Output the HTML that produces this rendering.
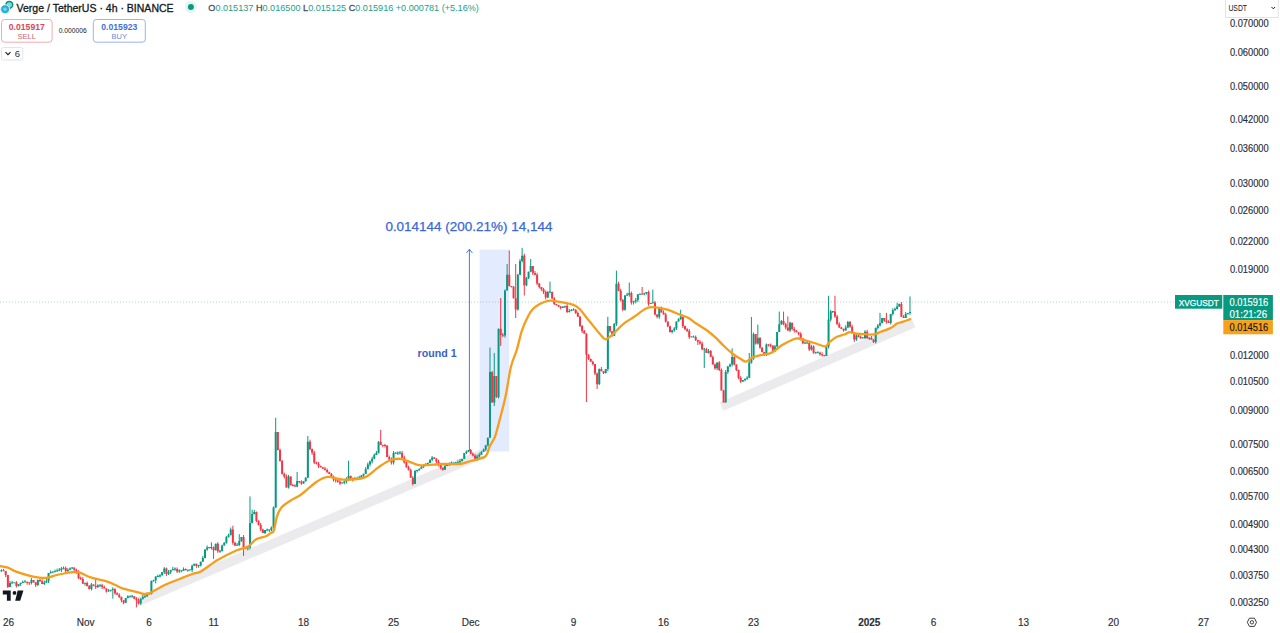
<!DOCTYPE html>
<html><head><meta charset="utf-8"><style>
html,body{margin:0;padding:0;background:#ffffff;width:1280px;height:633px;overflow:hidden}
svg{display:block}
text{font-family:"Liberation Sans",sans-serif}
</style></head><body>
<svg width="1280" height="633" viewBox="0 0 1280 633">
<rect width="1280" height="633" fill="#ffffff"/>
<!-- trend bands -->
<line x1="137" y1="602" x2="482" y2="454" stroke="#ebebed" stroke-width="9.5"/>
<line x1="721.6" y1="406.5" x2="913.6" y2="323" stroke="#ebebed" stroke-width="9.5"/>
<!-- measure rect -->
<rect x="479.7" y="249.6" width="29.5" height="201.9" fill="rgba(41,98,255,0.13)"/>
<!-- price line dotted -->
<line x1="0" y1="302" x2="1175" y2="302" stroke="#6aa9a0" stroke-width="1" stroke-dasharray="1 2" opacity="0.5"/>
<!-- candles -->
<path d="M1.41 569.35V571.85M9.99 581.00V587.00M12.13 580.81V583.50M14.27 582.60V582.81M18.56 584.00V586.50M20.70 582.87V586.00M22.84 580.50V582.87M24.99 580.00V582.00M31.41 578.00V584.50M37.84 579.50V586.00M44.27 580.48V585.00M46.41 579.00V582.98M48.56 573.00V583.00M50.70 570.40V573.50M52.84 571.08V572.40M54.99 569.60V572.08M57.13 568.63V571.60M59.27 568.00V571.13M61.41 566.90V572.00M63.56 566.50V569.40M67.84 568.29V572.00M69.99 567.40V570.29M72.13 567.10V568.90M84.99 583.00V585.70M91.41 583.00V590.50M97.84 584.30V588.00M99.99 584.30V587.30M108.56 589.12V591.60M110.70 590.00V591.62M112.84 587.20V598.70M125.70 598.00V603.20M127.84 595.30V598.50M129.99 595.80V597.80M132.13 594.80V597.80M140.70 598.20V604.90M142.84 595.00V599.70M144.99 594.80V598.00M147.13 592.50V596.80M149.27 593.50V594.00M151.41 580.50V594.50M153.56 579.80V581.50M155.70 576.50V583.40M157.84 574.50V577.00M159.99 574.20V577.50M162.13 572.00V575.70M164.27 567.10V574.00M168.56 570.00V575.00M170.70 569.70V574.00M172.84 566.90V570.20M174.99 567.40V570.90M179.27 569.30V572.90M181.41 570.80V572.30M183.56 567.40V570.80M187.84 569.60V571.70M189.99 569.50V570.10M192.13 564.70V572.00M194.27 563.80V565.70M198.56 565.00V567.70M200.70 561.70V566.50M202.84 555.90V561.70M204.99 549.40V558.40M207.13 545.50V550.90M209.27 547.00V548.50M211.41 542.30V549.50M215.70 543.70V550.30M219.99 549.80V552.80M222.13 544.60V551.30M224.27 542.20V545.60M226.41 536.00V543.70M228.56 533.70V537.50M230.70 527.50V535.20M237.13 543.00V545.60M239.27 534.20V546.00M241.41 537.00V541.90M247.84 547.00V550.40M249.99 496.40V549.50M252.13 509.70V523.50M254.27 510.00V514.50M264.99 530.00V534.00M267.13 528.50V531.00M269.27 529.50V532.00M271.41 526.40V531.50M273.56 506.50V528.40M275.70 417.80V508.00M288.56 475.00V488.50M297.13 472.00V487.40M303.56 481.15V483.90M305.70 477.20V481.65M307.84 436.00V478.20M342.13 482.28V483.40M344.27 480.50V484.28M346.41 477.23V483.50M348.56 460.70V481.23M354.99 476.93V479.60M357.13 476.70V479.43M359.27 475.70V478.20M361.41 474.98V478.20M363.56 473.50V476.98M365.70 467.15V474.00M367.84 462.50V469.15M369.99 460.52V466.50M372.13 456.80V463.52M374.27 453.53V458.80M376.41 451.00V455.03M378.56 441.20V453.50M393.56 451.00V464.60M395.70 452.50V454.00M397.84 451.50V455.00M399.99 451.00V454.50M414.99 470.00V484.00M417.13 469.67V472.50M419.27 468.70V470.67M421.41 465.96V468.70M423.56 464.50V467.96M425.70 463.35V466.00M427.84 462.50V465.35M429.99 459.34V463.00M432.13 456.10V461.34M444.99 464.95V469.80M447.13 463.00V465.95M449.27 462.38V466.00M451.41 461.50V464.88M453.56 463.00V464.50M455.70 462.00V465.00M457.84 460.40V464.00M459.99 459.00V462.40M462.13 458.90V461.50M464.27 453.00V458.90M466.41 450.48V454.00M468.56 450.00V451.98M477.13 454.50V460.70M479.27 452.73V458.00M481.41 451.00V454.73M483.56 448.61V452.00M485.70 444.90V451.11M487.84 437.70V446.40M489.99 347.60V437.70M494.27 353.00V406.00M498.56 328.70V398.50M504.99 289.40V337.60M507.13 264.00V290.40M517.84 273.80V310.60M519.99 259.00V275.30M522.13 247.80V262.50M526.41 277.00V286.20M528.56 271.74V279.00M530.70 259.00V271.74M547.84 291.00V297.90M549.99 281.70V293.00M562.84 306.14V308.00M564.99 306.00V308.14M569.27 308.99V312.50M571.41 309.00V310.99M573.56 308.20V310.50M599.27 368.50V384.80M605.70 369.00V373.50M607.84 316.80V371.00M614.27 323.00V336.20M616.41 270.60V326.00M624.99 295.00V310.70M627.13 292.69V296.00M629.27 282.50V296.69M633.56 300.83V304.60M635.70 298.00V303.33M637.84 294.30V302.00M639.99 293.50V294.30M644.27 292.64V295.30M646.41 292.00V294.64M650.70 303.03V303.80M652.84 289.60V303.53M659.27 308.50V318.80M672.13 329.83V333.50M674.27 327.10V331.83M676.41 321.50V330.10M678.56 318.21V321.50M680.70 309.70V319.71M691.41 336.50V337.00M693.56 335.50V337.00M704.27 347.80V368.00M708.56 349.00V353.50M717.13 362.60V370.20M725.70 370.00V402.40M727.84 365.90V374.00M729.99 363.50V367.40M732.13 348.30V366.50M742.84 380.00V382.00M744.99 378.66V381.50M747.13 376.20V380.16M749.27 353.00V378.20M751.41 317.00V363.60M753.56 332.50V359.80M757.84 324.60V344.60M766.41 343.50V356.00M774.99 344.90V352.00M777.13 332.00V347.40M779.27 311.60V332.00M781.41 320.00V324.80M789.99 321.70V332.10M804.99 341.70V343.20M807.13 341.00V343.70M811.41 344.90V350.60M815.70 351.70V353.70M817.84 351.20V353.20M826.41 345.90V355.90M828.56 295.80V348.40M830.70 310.10V321.50M832.84 311.10V313.10M845.70 325.40V330.60M847.84 320.90V327.90M856.41 334.10V340.90M862.84 337.00V338.00M864.99 330.30V339.00M869.27 337.50V340.00M875.70 327.50V343.50M877.84 324.00V329.50M879.99 312.90V326.50M882.13 317.90V323.50M890.70 314.00V324.50M892.84 308.30V315.50M894.99 307.50V310.80M897.13 302.80V309.50M899.27 303.50V307.00M905.70 312.00V318.00M907.84 312.90V314.50M909.99 296.40V314.90" stroke="#089981" stroke-width="1" fill="none"/>
<path d="M3.56 568.85V571.00M5.70 571.00V577.00M7.84 575.00V588.00M16.41 581.10V587.50M27.13 581.50V584.63M29.27 582.63V585.00M33.56 580.00V582.72M35.70 582.22V587.00M39.99 578.50V581.79M42.13 579.29V584.00M65.70 566.50V573.00M74.27 567.60V571.73M76.41 568.73V573.80M78.56 570.30V579.00M80.70 576.50V580.00M82.84 577.00V583.70M87.13 581.50V586.50M89.27 585.00V589.50M93.56 584.50V585.94M95.70 578.20V589.00M102.13 583.80V589.00M104.27 585.50V588.40M106.41 588.40V592.60M114.99 588.20V594.70M117.13 592.20V594.80M119.27 593.30V598.00M121.41 596.50V602.30M123.56 600.30V604.20M134.27 596.30V599.20M136.41 597.20V607.40M138.56 598.30V604.40M166.41 567.60V576.00M177.13 567.40V572.90M185.70 568.40V570.20M196.41 563.80V567.70M213.56 546.50V558.90M217.84 542.20V552.80M232.84 525.70V544.70M234.99 541.70V546.10M243.56 535.00V556.00M245.70 547.00V549.40M256.41 511.50V522.30M258.56 520.30V525.50M260.70 523.00V531.10M262.84 528.60V533.00M277.84 432.00V450.50M279.99 448.50V461.50M282.13 460.00V474.50M284.27 472.50V478.50M286.41 474.50V487.50M290.70 476.50V485.30M292.84 483.80V486.31M294.99 484.31V486.90M299.27 481.00V483.32M301.41 480.32V484.90M309.99 439.70V450.50M312.13 448.50V454.84M314.27 450.84V464.10M316.41 461.60V464.37M318.56 461.87V468.00M320.70 465.50V467.33M322.84 467.33V468.84M324.99 466.84V470.50M327.13 468.50V472.74M329.27 471.74V474.00M331.41 473.00V477.08M333.56 475.58V481.60M335.70 479.10V482.58M337.84 479.58V482.81M339.99 479.81V484.90M350.70 475.50V479.94M352.84 477.44V481.60M380.70 430.00V445.00M382.84 445.00V447.29M384.99 443.79V447.50M387.13 445.50V457.00M389.27 455.50V460.54M391.41 457.54V464.60M402.13 451.00V458.24M404.27 455.74V463.60M406.41 460.60V467.68M408.56 465.68V470.50M410.70 468.50V477.70M412.84 476.20V485.50M434.27 457.10V459.20M436.41 458.20V463.16M438.56 459.66V466.50M440.70 464.00V469.35M442.84 467.35V470.80M470.70 449.00V454.34M472.84 452.34V456.40M474.99 453.90V459.20M492.13 371.00V402.60M496.41 376.00V398.00M500.70 298.00V346.00M502.84 333.00V337.10M509.27 250.40V286.50M511.41 286.00V287.50M513.56 286.00V298.37M515.70 264.00V318.00M524.27 253.70V295.60M532.84 266.00V275.00M534.99 271.00V275.30M537.13 272.80V285.00M539.27 283.00V288.50M541.41 287.00V290.84M543.56 287.84V294.00M545.70 290.50V299.40M552.13 291.50V299.09M554.27 297.09V305.00M556.41 304.00V305.50M558.56 305.00V306.82M560.70 305.82V309.50M567.13 304.00V313.00M575.70 309.20V313.95M577.84 311.45V316.80M579.99 315.80V327.00M582.13 325.00V333.00M584.27 330.00V333.90M586.41 333.40V402.00M588.56 354.20V360.00M590.70 358.50V361.71M592.84 360.71V365.50M594.99 364.00V375.10M597.13 372.60V389.00M601.41 367.00V371.24M603.56 371.24V374.00M609.99 326.00V332.80M612.13 331.30V336.70M618.56 281.70V291.30M620.70 288.80V301.50M622.84 299.00V311.20M631.41 291.50V304.60M642.13 287.00V294.30M648.56 290.50V305.80M654.99 301.10V315.40M657.13 314.40V318.30M661.41 306.50V312.46M663.56 310.46V314.40M665.70 312.90V322.50M667.84 321.50V327.30M669.99 325.80V332.50M682.84 316.80V328.00M684.99 325.50V330.17M687.13 328.17V332.00M689.27 329.00V339.00M695.70 335.50V341.00M697.84 340.00V345.00M699.99 340.20V344.60M702.13 341.60V350.30M706.41 347.80V353.00M710.70 350.00V356.90M712.84 355.40V364.50M714.99 363.50V369.70M719.27 361.10V371.00M721.41 368.50V390.77M723.56 389.77V402.40M734.27 354.90V365.50M736.41 364.50V371.00M738.56 369.50V379.20M740.70 376.20V383.00M755.70 334.00V344.60M759.99 337.00V348.90M762.13 347.40V352.59M764.27 352.09V356.00M768.56 344.50V346.54M770.70 343.54V347.50M772.84 345.50V352.00M783.56 311.60V325.30M785.70 322.80V329.40M787.84 316.40V331.10M792.13 322.70V330.50M794.27 327.00V332.60M796.41 330.10V332.20M798.56 332.20V335.30M800.70 332.30V340.50M802.84 338.00V344.20M809.27 342.50V351.10M813.56 345.40V353.70M819.99 351.70V355.80M822.13 352.30V356.56M824.27 355.06V356.40M834.99 295.80V317.90M837.13 314.90V324.80M839.27 322.30V327.90M841.41 326.90V329.00M843.56 328.50V331.60M849.99 320.90V327.80M852.13 324.80V333.50M854.27 333.00V342.00M858.56 333.60V337.40M860.70 335.40V339.00M867.13 329.80V339.00M871.41 336.00V339.90M873.56 339.40V343.00M884.27 317.90V322.00M886.41 312.90V323.70M888.56 320.20V323.00M901.41 302.00V316.70M903.56 315.20V318.00" stroke="#f23645" stroke-width="1" fill="none"/>
<path d="M0.41 570.35h2.0v1.00h-2.0zM8.99 583.00h2.0v4.00h-2.0zM11.13 582.41h2.0v1.00h-2.0zM13.27 582.21h2.0v1.00h-2.0zM17.56 584.00h2.0v2.00h-2.0zM19.70 582.87h2.0v1.13h-2.0zM21.84 581.93h2.0v1.00h-2.0zM23.99 581.50h2.0v1.00h-2.0zM30.41 580.00h2.0v3.00h-2.0zM36.84 580.00h2.0v5.00h-2.0zM43.27 582.48h2.0v1.52h-2.0zM45.41 581.00h2.0v1.48h-2.0zM47.56 573.00h2.0v8.00h-2.0zM49.70 572.20h2.0v1.00h-2.0zM51.84 571.74h2.0v1.00h-2.0zM53.99 571.34h2.0v1.00h-2.0zM56.13 570.61h2.0v1.00h-2.0zM58.27 569.81h2.0v1.00h-2.0zM60.41 568.40h2.0v1.60h-2.0zM62.56 567.70h2.0v1.00h-2.0zM66.84 569.79h2.0v1.21h-2.0zM68.99 568.40h2.0v1.39h-2.0zM71.13 567.50h2.0v1.00h-2.0zM83.99 582.85h2.0v1.00h-2.0zM90.41 584.50h2.0v4.50h-2.0zM96.84 585.30h2.0v1.70h-2.0zM98.99 584.80h2.0v1.00h-2.0zM107.56 590.61h2.0v1.00h-2.0zM109.70 589.81h2.0v1.00h-2.0zM111.84 589.10h2.0v1.00h-2.0zM124.70 598.00h2.0v4.70h-2.0zM126.84 596.30h2.0v1.70h-2.0zM128.99 595.80h2.0v1.00h-2.0zM131.13 595.80h2.0v1.00h-2.0zM139.70 598.70h2.0v4.70h-2.0zM141.84 597.00h2.0v1.70h-2.0zM143.99 596.15h2.0v1.00h-2.0zM146.13 594.00h2.0v2.30h-2.0zM148.27 593.50h2.0v1.00h-2.0zM150.41 581.00h2.0v13.00h-2.0zM152.56 580.15h2.0v1.00h-2.0zM154.70 576.50h2.0v3.80h-2.0zM156.84 576.00h2.0v1.00h-2.0zM158.99 575.20h2.0v1.30h-2.0zM161.13 572.00h2.0v3.20h-2.0zM163.27 568.60h2.0v3.40h-2.0zM167.56 572.00h2.0v2.00h-2.0zM169.70 570.20h2.0v1.80h-2.0zM171.84 568.90h2.0v1.30h-2.0zM173.99 568.40h2.0v1.00h-2.0zM178.27 570.60h2.0v1.00h-2.0zM180.41 570.30h2.0v1.00h-2.0zM182.56 568.90h2.0v1.90h-2.0zM186.84 569.65h2.0v1.00h-2.0zM188.99 569.55h2.0v1.00h-2.0zM191.13 565.70h2.0v4.30h-2.0zM193.27 563.80h2.0v1.90h-2.0zM197.56 565.10h2.0v1.00h-2.0zM199.70 561.70h2.0v3.80h-2.0zM201.84 557.90h2.0v3.80h-2.0zM203.99 549.40h2.0v8.50h-2.0zM206.13 547.50h2.0v1.90h-2.0zM208.27 547.00h2.0v1.00h-2.0zM210.41 547.00h2.0v1.00h-2.0zM214.70 543.70h2.0v6.60h-2.0zM218.99 550.80h2.0v1.00h-2.0zM221.13 545.60h2.0v5.70h-2.0zM223.27 542.70h2.0v2.90h-2.0zM225.41 537.00h2.0v5.70h-2.0zM227.56 535.20h2.0v1.80h-2.0zM229.70 529.50h2.0v5.70h-2.0zM236.13 544.80h2.0v1.00h-2.0zM238.27 540.90h2.0v4.10h-2.0zM240.41 537.00h2.0v3.90h-2.0zM246.84 547.45h2.0v1.00h-2.0zM248.99 523.00h2.0v24.50h-2.0zM251.13 514.00h2.0v9.00h-2.0zM253.27 512.00h2.0v2.00h-2.0zM263.99 530.00h2.0v3.00h-2.0zM266.13 529.50h2.0v1.00h-2.0zM268.27 529.50h2.0v1.00h-2.0zM270.41 527.40h2.0v2.60h-2.0zM272.56 507.50h2.0v19.90h-2.0zM274.70 432.00h2.0v75.50h-2.0zM287.56 476.50h2.0v11.00h-2.0zM296.13 481.00h2.0v5.40h-2.0zM302.56 481.15h2.0v2.25h-2.0zM304.70 477.70h2.0v3.45h-2.0zM306.84 441.70h2.0v36.00h-2.0zM341.13 482.59h2.0v1.00h-2.0zM343.27 481.50h2.0v1.28h-2.0zM345.41 479.23h2.0v2.27h-2.0zM347.56 476.00h2.0v3.23h-2.0zM353.99 478.76h2.0v1.00h-2.0zM356.13 478.06h2.0v1.00h-2.0zM358.27 477.45h2.0v1.00h-2.0zM360.41 475.48h2.0v2.22h-2.0zM362.56 474.00h2.0v1.48h-2.0zM364.70 469.15h2.0v4.85h-2.0zM366.84 464.50h2.0v4.65h-2.0zM368.99 461.52h2.0v2.98h-2.0zM371.13 458.80h2.0v2.72h-2.0zM373.27 455.03h2.0v3.77h-2.0zM375.41 453.00h2.0v2.03h-2.0zM377.56 441.70h2.0v11.30h-2.0zM392.56 453.00h2.0v9.60h-2.0zM394.70 452.50h2.0v1.00h-2.0zM396.84 452.50h2.0v1.00h-2.0zM398.99 452.50h2.0v1.00h-2.0zM413.99 471.00h2.0v13.00h-2.0zM416.13 470.08h2.0v1.00h-2.0zM418.27 468.70h2.0v1.47h-2.0zM420.41 466.96h2.0v1.74h-2.0zM422.56 465.00h2.0v1.96h-2.0zM424.70 463.85h2.0v1.15h-2.0zM426.84 462.93h2.0v1.00h-2.0zM428.99 459.84h2.0v3.16h-2.0zM431.13 457.60h2.0v2.24h-2.0zM443.99 465.95h2.0v3.85h-2.0zM446.13 464.00h2.0v1.95h-2.0zM448.27 463.19h2.0v1.00h-2.0zM450.41 462.69h2.0v1.00h-2.0zM452.56 462.50h2.0v1.00h-2.0zM454.70 462.50h2.0v1.00h-2.0zM456.84 462.20h2.0v1.00h-2.0zM458.99 461.00h2.0v1.40h-2.0zM461.13 458.90h2.0v2.10h-2.0zM463.27 453.00h2.0v5.90h-2.0zM465.41 451.48h2.0v1.52h-2.0zM467.56 450.00h2.0v1.48h-2.0zM476.13 456.50h2.0v2.20h-2.0zM478.27 454.73h2.0v1.77h-2.0zM480.41 452.00h2.0v2.73h-2.0zM482.56 449.61h2.0v2.39h-2.0zM484.70 445.40h2.0v4.21h-2.0zM486.84 437.70h2.0v7.70h-2.0zM488.99 372.00h2.0v65.70h-2.0zM493.27 376.00h2.0v26.60h-2.0zM497.56 328.70h2.0v68.30h-2.0zM503.99 290.40h2.0v45.20h-2.0zM506.13 274.80h2.0v15.60h-2.0zM516.84 274.80h2.0v34.80h-2.0zM518.99 261.00h2.0v13.80h-2.0zM521.13 255.70h2.0v5.30h-2.0zM525.41 278.00h2.0v7.20h-2.0zM527.56 271.74h2.0v6.26h-2.0zM529.70 266.00h2.0v5.74h-2.0zM546.84 292.00h2.0v5.40h-2.0zM548.99 291.50h2.0v1.00h-2.0zM561.84 306.64h2.0v1.36h-2.0zM563.99 305.82h2.0v1.00h-2.0zM568.27 310.99h2.0v1.01h-2.0zM570.41 309.99h2.0v1.00h-2.0zM572.56 309.35h2.0v1.00h-2.0zM598.27 369.00h2.0v15.30h-2.0zM604.70 369.00h2.0v4.00h-2.0zM606.84 326.00h2.0v43.00h-2.0zM613.27 324.00h2.0v11.70h-2.0zM615.41 283.70h2.0v40.30h-2.0zM623.99 295.50h2.0v14.20h-2.0zM626.13 294.60h2.0v1.00h-2.0zM628.27 293.00h2.0v1.69h-2.0zM632.56 301.33h2.0v1.27h-2.0zM634.70 300.00h2.0v1.33h-2.0zM636.84 294.30h2.0v5.70h-2.0zM638.99 293.65h2.0v1.00h-2.0zM643.27 293.14h2.0v1.16h-2.0zM645.41 292.00h2.0v1.14h-2.0zM649.70 302.92h2.0v1.00h-2.0zM651.84 302.32h2.0v1.00h-2.0zM658.27 308.50h2.0v8.30h-2.0zM671.13 330.33h2.0v1.67h-2.0zM673.27 328.60h2.0v1.73h-2.0zM675.41 321.50h2.0v7.10h-2.0zM677.56 319.21h2.0v2.29h-2.0zM679.70 316.80h2.0v2.41h-2.0zM690.41 336.50h2.0v1.00h-2.0zM692.56 336.50h2.0v1.00h-2.0zM703.27 348.80h2.0v1.00h-2.0zM707.56 351.00h2.0v2.00h-2.0zM716.13 362.60h2.0v5.60h-2.0zM724.70 372.00h2.0v30.40h-2.0zM726.84 366.40h2.0v5.60h-2.0zM728.99 364.50h2.0v1.90h-2.0zM731.13 356.90h2.0v7.60h-2.0zM741.84 380.00h2.0v1.50h-2.0zM743.99 378.66h2.0v1.34h-2.0zM746.13 377.68h2.0v1.00h-2.0zM748.27 362.60h2.0v15.10h-2.0zM750.41 358.80h2.0v3.80h-2.0zM752.56 334.00h2.0v24.80h-2.0zM756.84 338.00h2.0v5.60h-2.0zM765.41 344.50h2.0v10.50h-2.0zM773.99 346.40h2.0v4.60h-2.0zM776.13 332.00h2.0v14.40h-2.0zM778.27 324.30h2.0v7.70h-2.0zM780.41 321.00h2.0v3.30h-2.0zM788.99 322.70h2.0v7.90h-2.0zM803.99 342.70h2.0v1.00h-2.0zM806.13 342.60h2.0v1.00h-2.0zM810.41 346.40h2.0v3.20h-2.0zM814.70 352.20h2.0v1.00h-2.0zM816.84 352.20h2.0v1.00h-2.0zM825.41 346.40h2.0v9.50h-2.0zM827.56 319.50h2.0v26.90h-2.0zM829.70 311.60h2.0v7.90h-2.0zM831.84 311.10h2.0v1.00h-2.0zM844.70 327.40h2.0v3.20h-2.0zM846.84 321.90h2.0v5.50h-2.0zM855.41 335.60h2.0v3.80h-2.0zM861.84 337.50h2.0v1.00h-2.0zM863.99 331.80h2.0v6.20h-2.0zM868.27 337.50h2.0v1.00h-2.0zM874.70 328.00h2.0v14.00h-2.0zM876.84 325.50h2.0v2.50h-2.0zM878.99 323.00h2.0v2.50h-2.0zM881.13 317.90h2.0v5.10h-2.0zM889.70 314.00h2.0v9.00h-2.0zM891.84 310.30h2.0v3.70h-2.0zM893.99 309.00h2.0v1.30h-2.0zM896.13 306.50h2.0v2.50h-2.0zM898.27 304.00h2.0v2.50h-2.0zM904.70 314.00h2.0v4.00h-2.0zM906.84 312.90h2.0v1.10h-2.0zM908.99 311.95h2.0v1.00h-2.0z" fill="#089981"/>
<path d="M2.56 570.18h2.0v1.00h-2.0zM4.70 571.00h2.0v4.00h-2.0zM6.84 575.00h2.0v12.00h-2.0zM15.41 582.60h2.0v3.40h-2.0zM26.13 581.81h2.0v1.00h-2.0zM28.27 582.31h2.0v1.00h-2.0zM32.56 580.00h2.0v2.22h-2.0zM34.70 582.22h2.0v2.78h-2.0zM38.99 580.00h2.0v1.29h-2.0zM41.13 581.29h2.0v2.71h-2.0zM64.70 568.00h2.0v3.00h-2.0zM73.27 567.60h2.0v2.13h-2.0zM75.41 569.73h2.0v2.07h-2.0zM77.56 571.80h2.0v6.20h-2.0zM79.70 578.00h2.0v1.00h-2.0zM81.84 579.00h2.0v4.70h-2.0zM86.13 583.00h2.0v3.00h-2.0zM88.27 586.00h2.0v3.00h-2.0zM92.56 584.50h2.0v1.44h-2.0zM94.70 585.94h2.0v1.06h-2.0zM101.13 585.30h2.0v1.70h-2.0zM103.27 587.00h2.0v1.40h-2.0zM105.41 588.40h2.0v3.20h-2.0zM113.99 589.20h2.0v4.00h-2.0zM116.13 593.20h2.0v1.60h-2.0zM118.27 594.80h2.0v2.20h-2.0zM120.41 597.00h2.0v3.30h-2.0zM122.56 600.30h2.0v2.40h-2.0zM133.27 596.30h2.0v2.40h-2.0zM135.41 598.70h2.0v1.60h-2.0zM137.56 600.30h2.0v3.10h-2.0zM165.41 568.60h2.0v5.40h-2.0zM176.13 568.90h2.0v2.50h-2.0zM184.70 568.90h2.0v1.30h-2.0zM195.41 563.80h2.0v1.90h-2.0zM212.56 547.50h2.0v2.80h-2.0zM216.84 543.70h2.0v7.60h-2.0zM231.84 529.50h2.0v13.20h-2.0zM233.99 542.70h2.0v2.90h-2.0zM242.56 537.00h2.0v10.50h-2.0zM244.70 547.45h2.0v1.00h-2.0zM255.41 512.00h2.0v8.80h-2.0zM257.56 520.80h2.0v4.20h-2.0zM259.70 525.00h2.0v4.60h-2.0zM261.84 529.60h2.0v3.40h-2.0zM276.84 432.00h2.0v18.00h-2.0zM278.99 450.00h2.0v11.00h-2.0zM281.13 461.00h2.0v13.00h-2.0zM283.27 474.00h2.0v2.50h-2.0zM285.41 476.50h2.0v11.00h-2.0zM289.70 476.50h2.0v8.80h-2.0zM291.84 485.05h2.0v1.00h-2.0zM293.99 485.60h2.0v1.00h-2.0zM298.27 480.91h2.0v1.00h-2.0zM300.41 481.82h2.0v1.58h-2.0zM308.99 441.70h2.0v7.30h-2.0zM311.13 449.00h2.0v3.84h-2.0zM313.27 452.84h2.0v9.76h-2.0zM315.41 462.60h2.0v1.27h-2.0zM317.56 463.87h2.0v2.13h-2.0zM319.70 466.00h2.0v1.33h-2.0zM321.84 467.33h2.0v1.50h-2.0zM323.99 468.84h2.0v1.16h-2.0zM326.13 470.00h2.0v2.24h-2.0zM328.27 472.24h2.0v1.76h-2.0zM330.41 474.00h2.0v2.58h-2.0zM332.56 476.58h2.0v3.02h-2.0zM334.70 479.59h2.0v1.00h-2.0zM336.84 480.58h2.0v1.23h-2.0zM338.99 481.81h2.0v1.59h-2.0zM349.70 476.00h2.0v1.94h-2.0zM351.84 477.94h2.0v1.66h-2.0zM379.70 441.70h2.0v3.30h-2.0zM381.84 444.64h2.0v1.00h-2.0zM383.99 444.89h2.0v1.00h-2.0zM386.13 445.50h2.0v11.50h-2.0zM388.27 457.00h2.0v2.54h-2.0zM390.41 459.54h2.0v3.06h-2.0zM401.13 453.00h2.0v4.74h-2.0zM403.27 457.74h2.0v4.86h-2.0zM405.41 462.60h2.0v4.58h-2.0zM407.56 467.18h2.0v2.82h-2.0zM409.70 470.00h2.0v7.70h-2.0zM411.84 477.70h2.0v6.30h-2.0zM433.27 457.60h2.0v1.10h-2.0zM435.41 458.70h2.0v2.96h-2.0zM437.56 461.66h2.0v3.34h-2.0zM439.70 465.00h2.0v2.85h-2.0zM441.84 467.85h2.0v1.95h-2.0zM469.70 450.00h2.0v3.84h-2.0zM471.84 453.84h2.0v1.56h-2.0zM473.99 455.40h2.0v3.30h-2.0zM491.13 372.00h2.0v30.60h-2.0zM495.41 376.00h2.0v21.00h-2.0zM499.70 328.70h2.0v6.30h-2.0zM501.84 334.80h2.0v1.00h-2.0zM508.27 274.80h2.0v11.20h-2.0zM510.41 286.00h2.0v1.00h-2.0zM512.56 287.00h2.0v11.37h-2.0zM514.70 298.37h2.0v11.23h-2.0zM523.27 255.70h2.0v29.50h-2.0zM531.84 266.00h2.0v7.00h-2.0zM533.99 273.00h2.0v1.80h-2.0zM536.13 274.80h2.0v8.70h-2.0zM538.27 283.50h2.0v3.50h-2.0zM540.41 287.00h2.0v2.34h-2.0zM542.56 289.34h2.0v2.66h-2.0zM544.70 292.00h2.0v5.40h-2.0zM551.13 292.00h2.0v6.59h-2.0zM553.27 298.59h2.0v5.41h-2.0zM555.41 304.00h2.0v1.00h-2.0zM557.56 305.00h2.0v1.82h-2.0zM559.70 306.82h2.0v1.18h-2.0zM566.13 306.00h2.0v6.00h-2.0zM574.70 309.70h2.0v3.25h-2.0zM576.84 312.95h2.0v3.85h-2.0zM578.99 316.80h2.0v9.20h-2.0zM581.13 326.00h2.0v5.00h-2.0zM583.27 331.00h2.0v2.40h-2.0zM585.41 333.40h2.0v21.30h-2.0zM587.56 354.70h2.0v4.30h-2.0zM589.70 359.00h2.0v2.71h-2.0zM591.84 361.71h2.0v2.29h-2.0zM593.99 364.00h2.0v9.60h-2.0zM596.13 373.60h2.0v10.70h-2.0zM600.41 369.00h2.0v2.24h-2.0zM602.56 371.24h2.0v1.76h-2.0zM608.99 326.00h2.0v5.30h-2.0zM611.13 331.30h2.0v4.40h-2.0zM617.56 283.70h2.0v7.10h-2.0zM619.70 290.80h2.0v9.20h-2.0zM621.84 300.00h2.0v9.70h-2.0zM630.41 293.00h2.0v9.60h-2.0zM641.13 293.65h2.0v1.00h-2.0zM647.56 292.00h2.0v11.80h-2.0zM653.99 302.60h2.0v11.80h-2.0zM656.13 314.40h2.0v2.40h-2.0zM660.41 308.50h2.0v3.96h-2.0zM662.56 312.46h2.0v1.94h-2.0zM664.70 314.40h2.0v7.10h-2.0zM666.84 321.50h2.0v4.80h-2.0zM668.99 326.30h2.0v5.70h-2.0zM681.84 316.80h2.0v9.20h-2.0zM683.99 326.00h2.0v3.17h-2.0zM686.13 329.17h2.0v1.83h-2.0zM688.27 331.00h2.0v6.00h-2.0zM694.70 337.00h2.0v3.00h-2.0zM696.84 340.00h2.0v1.70h-2.0zM698.99 341.70h2.0v1.90h-2.0zM701.13 343.60h2.0v5.70h-2.0zM705.41 349.30h2.0v3.70h-2.0zM709.70 351.00h2.0v5.90h-2.0zM711.84 356.90h2.0v7.60h-2.0zM713.99 364.50h2.0v3.70h-2.0zM718.27 362.60h2.0v7.40h-2.0zM720.41 370.00h2.0v20.27h-2.0zM722.56 390.27h2.0v12.13h-2.0zM733.27 356.90h2.0v7.60h-2.0zM735.41 364.50h2.0v5.50h-2.0zM737.56 370.00h2.0v7.70h-2.0zM739.70 377.70h2.0v3.80h-2.0zM754.70 334.00h2.0v9.60h-2.0zM758.99 338.00h2.0v9.40h-2.0zM761.13 347.40h2.0v4.69h-2.0zM763.27 352.09h2.0v2.91h-2.0zM767.56 344.27h2.0v1.00h-2.0zM769.70 344.77h2.0v1.00h-2.0zM771.84 345.50h2.0v5.50h-2.0zM782.56 321.00h2.0v3.30h-2.0zM784.70 324.30h2.0v3.10h-2.0zM786.84 327.40h2.0v3.20h-2.0zM791.13 322.70h2.0v6.30h-2.0zM793.27 329.00h2.0v1.60h-2.0zM795.41 330.60h2.0v1.60h-2.0zM797.56 332.20h2.0v1.60h-2.0zM799.70 333.80h2.0v4.70h-2.0zM801.84 338.50h2.0v4.70h-2.0zM808.27 343.00h2.0v6.60h-2.0zM812.56 346.40h2.0v6.30h-2.0zM818.99 352.70h2.0v1.60h-2.0zM821.13 354.18h2.0v1.00h-2.0zM823.27 354.98h2.0v1.00h-2.0zM833.99 311.60h2.0v4.80h-2.0zM836.13 316.40h2.0v7.90h-2.0zM838.27 324.30h2.0v3.10h-2.0zM840.41 327.40h2.0v1.60h-2.0zM842.56 329.00h2.0v1.60h-2.0zM848.99 321.90h2.0v4.90h-2.0zM851.13 326.80h2.0v6.20h-2.0zM853.27 333.00h2.0v6.40h-2.0zM857.56 335.60h2.0v1.30h-2.0zM859.70 336.90h2.0v1.10h-2.0zM866.13 331.80h2.0v6.20h-2.0zM870.41 338.00h2.0v1.40h-2.0zM872.56 339.40h2.0v2.60h-2.0zM883.27 317.90h2.0v2.60h-2.0zM885.41 320.50h2.0v1.20h-2.0zM887.56 321.70h2.0v1.30h-2.0zM900.41 304.00h2.0v12.70h-2.0zM902.56 316.70h2.0v1.30h-2.0z" fill="#f23645"/>
<!-- MA -->
<path d="M0.0 566.0C1.3 566.3 5.3 566.7 8.0 567.6C10.7 568.5 12.0 570.2 16.0 571.6C20.0 573.0 27.0 575.2 32.0 576.3C37.0 577.3 41.7 578.1 45.8 577.9C49.9 577.7 52.6 575.9 56.8 575.0C61.0 574.1 67.3 572.8 71.0 572.4C74.7 572.0 75.7 571.6 79.0 572.4C82.3 573.2 86.2 575.9 90.8 577.4C95.4 578.9 102.4 580.0 106.6 581.3C110.8 582.6 113.4 584.1 116.0 585.3C118.6 586.5 118.7 587.2 122.4 588.4C126.1 589.6 134.5 591.5 138.2 592.4C141.9 593.3 142.5 593.9 144.5 594.0C146.5 594.1 148.6 593.7 150.0 593.2C151.4 592.7 150.2 592.7 153.0 591.2C155.8 589.7 162.6 586.0 167.0 584.0C171.4 582.0 175.4 580.7 179.6 579.0C183.8 577.3 188.6 575.3 192.2 574.0C195.8 572.7 196.7 573.8 201.0 571.4C205.3 569.0 212.0 563.3 218.0 559.8C224.0 556.3 231.9 552.5 236.9 550.3C241.9 548.1 245.0 548.3 248.2 546.5C251.3 544.7 252.8 541.2 255.8 539.5C258.8 537.8 263.5 537.4 266.0 536.3C268.5 535.2 269.5 533.9 270.8 533.0C272.1 532.1 272.8 533.5 273.8 530.7C274.8 527.9 275.7 520.2 277.0 516.3C278.3 512.4 279.3 510.1 281.5 507.5C283.7 504.9 287.1 503.0 290.4 500.8C293.7 498.6 297.1 497.4 301.5 494.2C305.9 491.0 312.6 484.4 317.0 481.5C321.4 478.6 323.6 477.1 328.0 476.8C332.4 476.5 337.4 479.5 343.4 479.6C349.4 479.8 358.3 479.6 364.0 477.7C369.7 475.8 373.3 470.8 377.5 468.0C381.7 465.2 385.2 462.2 389.0 460.7C392.8 459.2 396.5 458.5 400.3 458.8C404.1 459.1 408.2 461.5 411.7 462.6C415.1 463.7 415.8 465.2 421.0 465.4C426.2 465.6 436.5 464.2 443.0 464.0C449.5 463.8 455.2 464.5 459.8 464.0C464.4 463.5 466.6 462.2 470.8 461.0C475.0 459.8 482.1 458.9 485.2 456.5C488.3 454.1 488.0 449.8 489.6 446.5C491.2 443.2 493.3 441.1 495.0 436.6C496.7 432.1 498.0 426.3 499.7 419.7C501.4 413.1 503.5 405.9 505.4 397.0C507.3 388.1 509.1 374.4 511.0 366.6C512.9 358.8 514.9 356.0 516.7 350.0C518.5 344.0 520.2 335.7 522.0 330.4C523.8 325.1 525.5 321.5 527.2 318.0C528.9 314.5 530.4 311.9 532.4 309.6C534.4 307.3 536.7 305.8 539.3 304.3C541.9 302.9 545.1 301.4 548.0 300.9C550.9 300.4 552.2 300.5 556.8 301.4C561.4 302.2 570.7 303.1 575.8 306.0C580.9 308.9 583.7 314.4 587.6 319.0C591.5 323.6 596.4 330.0 599.4 333.4C602.4 336.8 603.4 338.9 605.4 339.3C607.4 339.7 609.1 337.5 611.3 335.7C613.5 333.9 616.1 330.8 618.4 328.6C620.7 326.4 622.4 324.7 625.0 322.7C627.6 320.7 630.7 319.2 634.2 316.8C637.7 314.4 642.5 310.1 646.0 308.5C649.5 306.9 652.0 307.1 655.5 307.3C659.0 307.5 663.3 308.5 667.3 309.7C671.2 310.9 675.7 313.0 679.2 314.4C682.8 315.8 686.0 316.6 688.6 318.0C691.2 319.4 692.0 320.7 695.0 322.7C698.0 324.7 702.9 327.5 706.4 330.0C709.9 332.5 713.1 335.3 715.9 337.9C718.7 340.5 720.5 342.8 723.4 345.5C726.2 348.2 730.1 351.8 733.0 354.0C735.9 356.2 738.3 357.5 740.5 358.8C742.7 360.1 744.3 361.8 746.2 361.6C748.1 361.4 749.4 358.9 751.9 357.8C754.4 356.7 758.2 355.8 761.4 355.0C764.5 354.2 767.3 354.7 770.8 353.0C774.3 351.3 779.1 347.0 782.6 344.8C786.1 342.6 789.4 341.1 792.0 340.0C794.6 338.9 795.6 338.2 798.5 338.5C801.4 338.8 806.4 340.8 809.5 341.7C812.6 342.6 814.8 343.2 817.4 344.0C820.0 344.8 823.2 346.8 825.3 346.4C827.4 346.0 828.1 343.3 830.0 341.7C831.9 340.1 834.0 338.2 836.4 337.0C838.8 335.8 842.0 335.3 844.3 334.5C846.6 333.7 848.0 332.3 850.0 332.2C852.0 332.1 852.4 333.3 856.4 333.7C860.4 334.1 870.0 334.7 874.0 334.4C878.0 334.1 877.7 332.9 880.5 331.8C883.3 330.7 887.9 329.4 890.6 328.0C893.3 326.6 894.8 324.7 896.9 323.6C899.0 322.6 901.0 322.4 903.2 321.7C905.4 321.0 909.0 319.6 910.2 319.2" stroke="#f59e1b" stroke-width="2.3" fill="none" stroke-linejoin="round" stroke-linecap="round"/>
<!-- arrow -->
<line x1="469.4" y1="451" x2="469.4" y2="249.5" stroke="#4f76d6" stroke-width="1"/>
<path d="M466.4 253 L469.4 249.2 L472.4 253" stroke="#4f76d6" stroke-width="1" fill="none"/>
<!-- annotation text -->
<text x="385.4" y="230.5" font-size="12.5" fill="#3a68d8" stroke="#3a68d8" stroke-width="0.25" textLength="167" lengthAdjust="spacingAndGlyphs">0.014144 (200.21%) 14,144</text>
<text x="417.5" y="356.9" font-size="11" font-weight="bold" fill="#3a62c8" textLength="39.1" lengthAdjust="spacingAndGlyphs">round 1</text>
<!-- header -->
<g>
<circle cx="9.3" cy="4.8" r="3.4" fill="#7fdcd6" stroke="#0e927f" stroke-width="1.5"/>
<circle cx="5.1" cy="9.2" r="4.5" fill="#2aaedb" stroke="#ffffff" stroke-width="0.8"/>
<circle cx="5.1" cy="9.2" r="1.8" fill="#6fd8e8"/>
<text x="16.6" y="11.8" font-size="10.7" fill="#131722" stroke="#131722" stroke-width="0.3" textLength="157" lengthAdjust="spacingAndGlyphs">Verge / TetherUS · 4h · BINANCE</text>
<circle cx="190.9" cy="7.1" r="6" fill="#e3f5ef"/>
<circle cx="190.9" cy="7.1" r="3" fill="#089981"/>
<text x="208.3" y="11.3" font-size="9.6" fill="#22a08d" textLength="270.6" lengthAdjust="spacingAndGlyphs"><tspan fill="#4a4e59" stroke="#4a4e59" stroke-width="0.3">O</tspan>0.015137 <tspan fill="#4a4e59" stroke="#4a4e59" stroke-width="0.3">H</tspan>0.016500 <tspan fill="#4a4e59" stroke="#4a4e59" stroke-width="0.3">L</tspan>0.015125 <tspan fill="#4a4e59" stroke="#4a4e59" stroke-width="0.3">C</tspan>0.015916 +0.000781 (+5.16%)</text>
<rect x="1.5" y="19.5" width="50.6" height="22.7" rx="3" fill="#ffffff" stroke="#f0aab2" stroke-width="1"/>
<text x="26.8" y="29.6" font-size="8.6" font-weight="bold" fill="#dc4555" text-anchor="middle" textLength="36" lengthAdjust="spacingAndGlyphs">0.015917</text>
<text x="26.8" y="39" font-size="7.5" fill="#cf6672" text-anchor="middle">SELL</text>
<text x="58.8" y="33.3" font-size="7.8" fill="#131722" textLength="27.9" lengthAdjust="spacingAndGlyphs">0.000006</text>
<rect x="93.3" y="19.5" width="52" height="22.7" rx="3" fill="#ffffff" stroke="#9db2ee" stroke-width="1"/>
<text x="119.3" y="29.6" font-size="8.6" font-weight="bold" fill="#3f6fdc" text-anchor="middle" textLength="36" lengthAdjust="spacingAndGlyphs">0.015923</text>
<text x="119.3" y="39" font-size="7.5" fill="#6f8bd6" text-anchor="middle">BUY</text>
<rect x="1.5" y="47.5" width="21.2" height="12.5" rx="2" fill="#ffffff" stroke="#e0e3eb" stroke-width="1"/>
<path d="M5.5 52.2 L8 54.7 L10.5 52.2" stroke="#131722" stroke-width="1.1" fill="none"/>
<text x="14.8" y="57.2" font-size="9.5" fill="#2a2e39">6</text>
</g>
<!-- right axis -->
<rect x="1225.5" y="-1" width="52.7" height="18.5" fill="#ffffff" stroke="#e0e3eb" stroke-width="1"/>
<text x="1228.4" y="10.6" font-size="8.6" fill="#131722" textLength="18.6" lengthAdjust="spacingAndGlyphs">USDT</text>
<path d="M1271.5 7 L1273.3 8.8 L1275.1 7" stroke="#131722" stroke-width="1" fill="none"/>
<g font-size="10" fill="#2a2e39" stroke="#2a2e39" stroke-width="0.15">
<text x="1229.9" y="26.9" textLength="38.8" lengthAdjust="spacingAndGlyphs">0.070000</text>
<text x="1229.9" y="56.0" textLength="38.8" lengthAdjust="spacingAndGlyphs">0.060000</text>
<text x="1229.9" y="90.4" textLength="38.8" lengthAdjust="spacingAndGlyphs">0.050000</text>
<text x="1229.9" y="123.2" textLength="38.8" lengthAdjust="spacingAndGlyphs">0.042000</text>
<text x="1229.9" y="152.3" textLength="38.8" lengthAdjust="spacingAndGlyphs">0.036000</text>
<text x="1229.9" y="186.6" textLength="38.8" lengthAdjust="spacingAndGlyphs">0.030000</text>
<text x="1229.9" y="213.6" textLength="38.8" lengthAdjust="spacingAndGlyphs">0.026000</text>
<text x="1229.9" y="245.1" textLength="38.8" lengthAdjust="spacingAndGlyphs">0.022000</text>
<text x="1229.9" y="272.7" textLength="38.8" lengthAdjust="spacingAndGlyphs">0.019000</text>
<text x="1229.9" y="359.3" textLength="38.8" lengthAdjust="spacingAndGlyphs">0.012000</text>
<text x="1229.9" y="384.5" textLength="38.8" lengthAdjust="spacingAndGlyphs">0.010500</text>
<text x="1229.9" y="413.5" textLength="38.8" lengthAdjust="spacingAndGlyphs">0.009000</text>
<text x="1229.9" y="447.9" textLength="38.8" lengthAdjust="spacingAndGlyphs">0.007500</text>
<text x="1229.9" y="474.9" textLength="38.8" lengthAdjust="spacingAndGlyphs">0.006500</text>
<text x="1229.9" y="499.6" textLength="38.8" lengthAdjust="spacingAndGlyphs">0.005700</text>
<text x="1229.9" y="528.1" textLength="38.8" lengthAdjust="spacingAndGlyphs">0.004900</text>
<text x="1229.9" y="552.7" textLength="38.8" lengthAdjust="spacingAndGlyphs">0.004300</text>
<text x="1229.9" y="578.5" textLength="38.8" lengthAdjust="spacingAndGlyphs">0.003750</text>
<text x="1229.9" y="605.5" textLength="38.8" lengthAdjust="spacingAndGlyphs">0.003250</text>
</g>
<!-- price tags -->
<rect x="1175" y="295" width="47.3" height="13.7" fill="#089981"/>
<text x="1178.8" y="305.6" font-size="9.5" fill="#ffffff" stroke="#ffffff" stroke-width="0.25" textLength="40" lengthAdjust="spacingAndGlyphs">XVGUSDT</text>
<rect x="1223.3" y="295" width="49.6" height="25.1" fill="#089981"/>
<text x="1229.5" y="306.1" font-size="10" fill="#ffffff" stroke="#ffffff" stroke-width="0.15" textLength="38.8" lengthAdjust="spacingAndGlyphs">0.015916</text>
<text x="1229.5" y="318" font-size="10" fill="#ffffff" stroke="#ffffff" stroke-width="0.15" textLength="37.5" lengthAdjust="spacingAndGlyphs">01:21:26</text>
<rect x="1223.3" y="320.1" width="49.6" height="14.2" fill="#f7a11a"/>
<text x="1229.5" y="331.3" font-size="10" fill="#131722" stroke="#131722" stroke-width="0.15" textLength="38.8" lengthAdjust="spacingAndGlyphs">0.014516</text>
<!-- time axis -->
<g font-size="10" fill="#2a2e39" stroke="#2a2e39" stroke-width="0.15">
<text x="8.5" y="625.6" text-anchor="middle">26</text>
<text x="85.7" y="625.6" text-anchor="middle">Nov</text>
<text x="149" y="625.6" text-anchor="middle">6</text>
<text x="213.7" y="625.6" text-anchor="middle">11</text>
<text x="303.5" y="625.6" text-anchor="middle">18</text>
<text x="393.5" y="625.6" text-anchor="middle">25</text>
<text x="470.7" y="625.6" text-anchor="middle">Dec</text>
<text x="573.5" y="625.6" text-anchor="middle">9</text>
<text x="663.5" y="625.6" text-anchor="middle">16</text>
<text x="753.5" y="625.6" text-anchor="middle">23</text>
<text x="869.3" y="625.6" text-anchor="middle" font-weight="bold">2025</text>
<text x="933.5" y="625.6" text-anchor="middle">6</text>
<text x="1023.5" y="625.6" text-anchor="middle">13</text>
<text x="1113.5" y="625.6" text-anchor="middle">20</text>
<text x="1203.5" y="625.6" text-anchor="middle">27</text>
</g>
<!-- gear -->
<path d="M1249.4 618.2 H1254.4 L1256.5 622.3 L1254.4 626.4 H1249.4 L1247.3 622.3 Z" fill="none" stroke="#3a3d45" stroke-width="1"/>
<circle cx="1251.9" cy="622.3" r="1.7" fill="none" stroke="#3a3d45" stroke-width="1"/>
<!-- TV logo -->
<g fill="#131722">
<path d="M2.8 590.5 H10.7 V600.8 H6.9 V594.5 H2.8 Z"/>
<circle cx="14.5" cy="592.9" r="1.9"/>
<path d="M17.7 590.5 H23.4 L20.2 600.8 H15.2 Z"/>
</g>
</svg>
</body></html>
